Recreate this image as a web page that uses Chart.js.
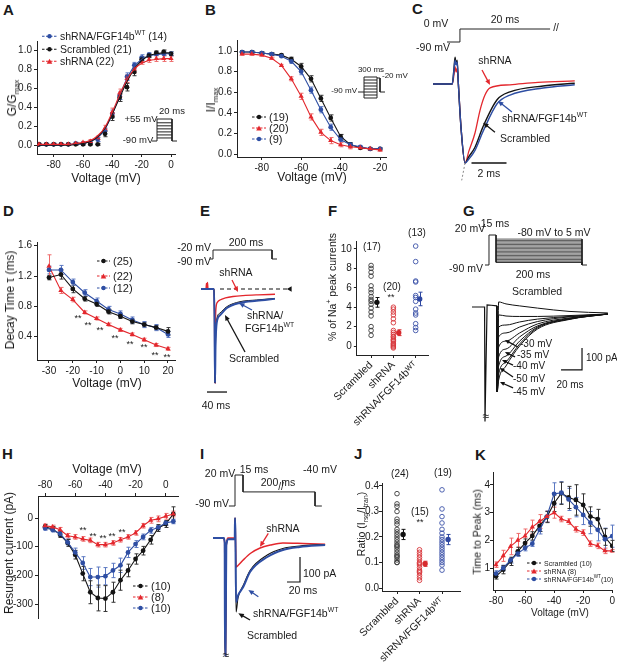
<!DOCTYPE html>
<html><head><meta charset="utf-8">
<script src="https://cdn.jsdelivr.net/npm/chart.js"></script>
<style>
html,body{margin:0;padding:0;background:#fff;}
#fig{position:relative;width:617px;height:662px;overflow:hidden;background:#fff;font-family:"Liberation Sans",Arial,Helvetica,sans-serif;color:#1a1a1a;}
#fig canvas{position:absolute;}
.t{position:absolute;white-space:nowrap;line-height:1;}
.t sub,.t sup{font-size:65%;line-height:0;}
</style></head><body><div id="fig"></div>
<script>
// ================= DATA =================
// Panel A : G/Gmax
const A_v=[-90,-85,-80,-75,-70,-65,-60,-55,-50,-45,-40,-35,-30,-25,-20,-15,-10,-5,0];
const A_fgf=[0.01,0.01,0.01,0.01,0.01,0.02,0.02,0.03,0.06,0.15,0.33,0.52,0.72,0.84,0.92,0.95,0.96,0.96,0.96];
const A_fgf_e=[0.01,0.01,0.01,0.01,0.01,0.01,0.01,0.01,0.02,0.03,0.04,0.04,0.04,0.03,0.03,0.02,0.02,0.02,0.02];
const A_fgf_fit=[0,0,0,0,0.01,0.01,0.02,0.04,0.08,0.17,0.33,0.52,0.70,0.83,0.90,0.94,0.95,0.96,0.96];
const A_scr=[0.01,0.01,0.01,0.01,0.01,0.01,0.01,0.01,0.01,0.12,0.30,0.50,0.61,0.77,0.90,0.94,0.97,0.98,0.96];
const A_scr_e=[0.01,0.01,0.01,0.01,0.01,0.01,0.01,0.01,0.01,0.03,0.04,0.04,0.04,0.04,0.03,0.02,0.02,0.02,0.02];
const A_scr_fit=[0,0,0,0,0,0.01,0.02,0.04,0.09,0.18,0.33,0.50,0.67,0.80,0.89,0.94,0.96,0.97,0.97];
const A_sh=[0.01,0.01,0.01,0.01,0.01,0.02,0.03,0.04,0.08,0.18,0.35,0.55,0.70,0.80,0.88,0.90,0.91,0.91,0.91];
const A_sh_e=[0.01,0.01,0.01,0.01,0.01,0.01,0.01,0.02,0.02,0.03,0.04,0.04,0.04,0.04,0.03,0.03,0.03,0.03,0.03];
const A_sh_fit=[0.01,0.01,0.01,0.01,0.01,0.02,0.03,0.05,0.10,0.19,0.35,0.53,0.69,0.80,0.86,0.89,0.90,0.91,0.91];
const A_xt=[-80,-60,-40,-20,0];
const A_yt=[0,0.2,0.4,0.6,0.8,1.0];
const A_ins_t=[0,4,4,16,16,20], A_ins_v=[-90,-90,55,55,-90,-90];
const A_ins_lv=[-70,-50,-30,-10,10,30];

// Panel B : I/Imax
const B_v=[-90,-85,-80,-75,-70,-65,-60,-55,-50,-45,-40,-35,-30,-25,-20];
const B_scr=[0.99,0.99,0.98,0.97,0.96,0.92,0.85,0.73,0.54,0.35,0.17,0.09,0.06,0.05,0.05];
const B_sh=[0.97,0.97,0.96,0.93,0.86,0.73,0.56,0.36,0.21,0.13,0.09,0.07,0.06,0.05,0.04];
const B_fgf=[0.99,0.99,0.98,0.97,0.95,0.90,0.80,0.62,0.43,0.26,0.14,0.09,0.07,0.05,0.05];
const B_e=[0.01,0.01,0.01,0.01,0.01,0.02,0.03,0.03,0.03,0.03,0.02,0.02,0.01,0.01,0.01];
const B_xt=[-80,-60,-40,-20];
const B_yt=[0,0.2,0.4,0.6,0.8,1.0];
const B_ins_lv=[-120,-105,-90,-75,-60,-45,-30,-15];

// Panel C : traces (ms, normalised current)
const C_tr=[0,1.1,1.2,1.26,1.32,1.38,1.45,1.6,1.83,2.05,2.4,2.69,2.97,3.26,4.4,6,8.1];
const C_red=[0,0,0.12,0.22,0.15,0.2,0,-0.55,-1.0,-0.85,-0.62,-0.33,-0.14,-0.05,-0.01,0.02,0.04];
const C_tk=[0,1.1,1.2,1.26,1.32,1.38,1.45,1.6,1.83,2.05,2.4,2.86,3.66,4.4,6.29,8.1];
const C_blk=[0,0,0.2,0.34,0.25,0.3,0,-0.55,-1.0,-0.92,-0.8,-0.54,-0.2,-0.1,-0.025,0.01];
const C_blu=[0,0,0.18,0.3,0.24,0.28,0,-0.55,-1.0,-0.95,-0.84,-0.6,-0.25,-0.14,-0.05,-0.01];
const C_pt=[0.8,1.54,1.54,6.69], C_pv=[-90,-90,0,0];

// Panel D : decay tau
const D_v=[-30,-25,-20,-15,-10,-5,0,5,10,15,20];
const D_scr=[1.18,1.22,1.03,0.90,0.83,0.73,0.67,0.60,0.56,0.52,0.47];
const D_scr_e=[0.03,0.06,0.05,0.03,0.03,0.03,0.03,0.03,0.03,0.03,0.05];
const D_sh=[1.33,1.01,0.89,0.72,0.64,0.56,0.49,0.43,0.36,0.29,0.24];
const D_sh_e=[0.15,0.04,0.03,0.02,0.02,0.02,0.02,0.02,0.02,0.02,0.02];
const D_fgf=[1.28,1.28,1.12,0.98,0.87,0.76,0.70,0.62,0.56,0.52,0.43];
const D_fgf_e=[0.05,0.06,0.04,0.04,0.04,0.04,0.04,0.04,0.04,0.04,0.04];
const D_xt=[-30,-20,-10,0,10,20];
const D_yt=[0.4,0.8,1.2,1.6];

// Panel E : traces
const E_tr=[-24,-14,-13,-12,-11,-10,-9,2,3,4,4.8,6,9,14,25,40,60,90,124];
const E_red=[0,0,0.06,0,0.07,0,0,0,-0.3,-1.0,-0.4,-0.2,-0.14,-0.117,-0.095,-0.08,-0.07,-0.062,-0.056];
const E_tk=[-24,2,3,4,5,7.4,14,27,54,87,124];
const E_blk=[0,0,-0.3,-1.0,-0.6,-0.33,-0.256,-0.19,-0.135,-0.117,-0.1];
const E_blu=[0,0,-0.3,-1.0,-0.62,-0.36,-0.28,-0.205,-0.148,-0.125,-0.105];
const E_pt=[-6,0,0,118,118,128], E_pv=[-90,-90,-20,-20,-90,-90];

// Panel F : % of Na+ peak
const F_cats=['Scrambled','shRNA','shRNA/FGF14b\u1D42\u1D40'];
const F_scr=[8.3,8.0,7.6,7.2,6.2,5.8,5.5,5.1,4.8,4.6,4.3,3.9,3.5,3.1,2.0,1.6,1.1];
const F_sh=[4.0,3.8,3.5,3.2,2.8,2.4,1.6,1.4,1.2,1.0,0.9,0.7,0.6,0.5,0.3,0.2,0.1,0.0,-0.1,-0.2];
const F_fgf=[10.3,8.7,6.7,6.6,5.2,5.0,4.6,3.8,3.4,3.2,2.3,1.9,1.6];
const F_mean=[4.5,1.37,4.85], F_sem=[0.5,0.3,0.7];
const F_yt=[0,2,4,6,8,10];

// Panel G : resurgent family (ms, pA)
const G_t0=[-12.4,-0.4,0,0.9,2,6,11.2], G_i0=[0,0,-520,-520,10,8,5];
const G_tt=[11.2,11.6,13,20,33,50,80,117];
const G_tr=[
 [5,-386,23,14,5,-5,-20,-27],
 [5,-386,-36,-41,-43,-43,-39,-32],
 [5,-386,-91,-82,-68,-55,-43,-32],
 [5,-386,-136,-118,-91,-66,-45,-32],
 [5,-386,-182,-155,-118,-77,-50,-32],
 [5,-386,-227,-191,-136,-86,-52,-32],
 [5,-386,-268,-223,-155,-91,-55,-32],
 [5,-386,-305,-250,-168,-95,-55,-32],
 [5,-386,-332,-268,-177,-100,-57,-32]];
const G_pt=[0,3.8,3.8,10.5,10.5,92.4,92.4,97.1], G_pv=[-90,-90,20,20,-80,-80,-90,-90];
const G_steps=[-80,-75,-70,-65,-60,-55,-50,-45,-40,-35,-30,-25,-20,-15,-10,-5,0,5];

// Panel H : resurgent current I-V
const H_v=[-80,-75,-70,-65,-60,-55,-50,-45,-40,-35,-30,-25,-20,-15,-10,-5,0,5];
const H_scr=[-31,-38,-58,-87,-128,-194,-259,-279,-281,-259,-217,-183,-143,-114,-76,-35,-21,14];
const H_scr_e=[8,8,10,12,15,25,40,45,45,35,35,22,18,15,15,12,12,25];
const H_sh=[-27,-31,-41,-62,-66,-73,-78,-93,-93,-87,-76,-66,-52,-27,-8,-3,6,14];
const H_sh_e=[6,6,8,8,8,8,8,8,8,8,8,8,8,8,10,10,10,10];
const H_fgf=[-35,-41,-55,-85,-120,-157,-206,-206,-203,-183,-165,-120,-91,-66,-43,-33,-17,-12];
const H_fgf_e=[8,8,10,12,15,22,30,35,30,25,25,18,12,10,10,8,8,8];
const H_xt=[-80,-60,-40,-20,0];
const H_yt=[0,-100,-200,-300];

// Panel I : traces (ms, pA)
const I_tr=[-18.5,-2,-0.5,0,0.8,2,5,15,15.4,16,17,20,28,40,54,70,89,120,154];
const I_red=[0,0,-20,-470,-470,-30,0,0,80,20,-116,-110,-88,-60,-40,-28,-20,-22,-25];
const I_tb=[-18.5,-2,-0.5,0,0.8,2,5,15,15.4,16,17,20,28,38.5,65,89,115,154];
const I_blu=[0,0,-20,-470,-470,-30,-5,-5,80,20,-256,-230,-196,-136,-76,-48,-36,-28];
const I_blk=[0,0,-20,-470,-470,-30,-5,-5,80,20,-296,-240,-190,-130,-68,-42,-32,-26];
const I_pt=[6,15.4,15.4,27.7,27.7,138.5,138.5,149], I_pv=[-90,-90,20,20,-40,-40,-90,-90];

// Panel J : ratio
const J_cats=F_cats;
const J_scr=[0.37,0.33,0.32,0.30,0.27,0.26,0.25,0.23,0.22,0.21,0.20,0.19,0.18,0.17,0.165,0.16,0.15,0.14,0.13,0.125,0.12,0.11,0.10,0.10];
const J_sh=[0.15,0.14,0.13,0.12,0.11,0.10,0.095,0.09,0.08,0.07,0.065,0.06,0.05,0.04,0.03];
const J_fgf=[0.385,0.31,0.28,0.255,0.23,0.215,0.2,0.19,0.18,0.17,0.16,0.15,0.14,0.13,0.12,0.11,0.1,0.09,0.07];
const J_mean=[0.21,0.095,0.19], J_sem=[0.02,0.01,0.02];
const J_yt=[0,0.1,0.2,0.3,0.4];

// Panel K : time to peak
const K_v=[-80,-75,-70,-65,-60,-55,-50,-45,-40,-35,-30,-25,-20,-15,-10,-5,0];
const K_scr=[0.70,0.94,1.24,1.60,1.90,2.16,2.52,2.84,3.34,3.70,3.55,3.46,3.28,2.86,2.77,2.12,1.80];
const K_scr_e=[0.1,0.15,0.15,0.15,0.15,0.15,0.2,0.2,0.3,0.4,0.4,0.55,0.4,0.35,0.35,0.3,0.2];
const K_sh=[1.12,1.44,1.78,2.00,2.16,2.48,2.68,2.86,3.00,2.77,2.68,2.40,2.28,1.88,1.80,1.62,1.62];
const K_sh_e=[0.1,0.2,0.3,0.25,0.25,0.25,0.25,0.2,0.2,0.1,0.1,0.1,0.1,0.1,0.1,0.1,0.05];
const K_fgf=[0.80,1.00,1.28,1.52,1.72,1.88,2.38,2.86,3.68,3.72,3.48,3.20,2.92,2.64,2.38,2.04,2.15];
const K_fgf_e=[0.1,0.1,0.1,0.1,0.1,0.1,0.15,0.2,0.4,0.4,0.4,0.35,0.35,0.4,0.4,0.4,0.4];
const K_xt=[-80,-60,-40,-20,0];
const K_yt=[1,2,3,4];

// ================= STYLE / HELPERS =================
const BLK='#141414', RED='#e3272d', BLU='#2e4ea3';
const BLKe='#333', REDe='#ee6a6a', BLUe='#5b78c2';
const FONT="'Liberation Sans', Arial, Helvetica, sans-serif";
Chart.defaults.font.family=FONT; Chart.defaults.font.size=10; Chart.defaults.color='#1a1a1a';
Chart.defaults.animation=false; Chart.defaults.responsive=false; Chart.defaults.events=[];
Chart.defaults.plugins.legend.display=false; Chart.defaults.plugins.tooltip.enabled=false;
const fig=document.getElementById('fig');

function P(xs,ys){return xs.map((x,i)=>({x:x,y:ys[i]}));}
function rangeFor(m,pa,pb){const k=(m[2]-m[0])/(m[3]-m[1]);return [m[0]+(pa-m[1])*k,m[0]+(pb-m[1])*k];}
function canvasAt(b){const c=document.createElement('canvas');c.width=b.w;c.height=b.h;Object.assign(c.style,{left:b.x+'px',top:b.y+'px',width:b.w+'px',height:b.h+'px'});fig.appendChild(c);return c;}
function T(html,x,y,o){o=o||{};const d=document.createElement('div');d.className='t';d.innerHTML=html;d.style.left=x+'px';d.style.top=y+'px';d.style.fontSize=(o.fs||10.5)+'px';if(o.c)d.style.color=o.c;if(o.b)d.style.fontWeight='bold';const ax=o.a==='l'?'0':o.a==='r'?'-100%':'-50%';d.style.transform='translate('+ax+',-50%)'+(o.rot?' rotate(-90deg)':'');fig.appendChild(d);return d;}
function LG(x,y,w,color,marker,html,fs){const d=document.createElement('div');d.className='t';d.style.left=x+'px';d.style.top=y+'px';d.style.fontSize=fs+'px';d.style.transform='translateY(-50%)';d.style.display='flex';d.style.alignItems='center';const cx=w/2;const m=marker==='triangle'?`<polygon points="${cx-2.8},6 ${cx+2.8},6 ${cx},1" fill="${color}"/>`:`<circle cx="${cx}" cy="3.5" r="2.2" fill="${color}"/>`;d.innerHTML=`<svg width="${w}" height="7" style="margin-right:3px;flex:none"><line x1="0" y1="3.5" x2="${w}" y2="3.5" stroke="${color}" stroke-width="1" stroke-dasharray="2.5 1.5"/>${m}</svg><span>${html}</span>`;fig.appendChild(d);}

const errPlugin={id:'errbars',beforeDatasetsDraw(ch){const ctx=ch.ctx;ch.data.datasets.forEach(ds=>{if(!ds.err)return;const xs=ch.scales.x,ys=ch.scales.y,c=ds.cap||2;ctx.save();ctx.strokeStyle=ds.errColor||ds.borderColor;ctx.lineWidth=1;ctx.beginPath();ds.data.forEach((p,j)=>{const e=ds.err[j];if(!e)return;const x=Math.round(xs.getPixelForValue(p.x))+0.5,y1=ys.getPixelForValue(p.y+e),y2=ys.getPixelForValue(p.y-e);ctx.moveTo(x,y1);ctx.lineTo(x,y2);ctx.moveTo(x-c,y1);ctx.lineTo(x+c,y1);ctx.moveTo(x-c,y2);ctx.lineTo(x+c,y2);});ctx.stroke();ctx.restore();});}};
const arrowPlugin={id:'arrows',afterDatasetsDraw(ch,a,opts){const ctx=ch.ctx;(opts.list||[]).forEach(r=>{const xs=ch.scales.x,ys=ch.scales.y;const x1=xs.getPixelForValue(r.a[0]),y1=ys.getPixelForValue(r.a[1]),x2=xs.getPixelForValue(r.b[0]),y2=ys.getPixelForValue(r.b[1]);const ang=Math.atan2(y2-y1,x2-x1),h=r.h||6;ctx.save();ctx.strokeStyle=r.c;ctx.fillStyle=r.c;ctx.lineWidth=1.3;ctx.beginPath();ctx.moveTo(x1,y1);ctx.lineTo(x2-Math.cos(ang)*h*0.7,y2-Math.sin(ang)*h*0.7);ctx.stroke();ctx.beginPath();ctx.moveTo(x2,y2);ctx.lineTo(x2-h*Math.cos(ang-0.42),y2-h*Math.sin(ang-0.42));ctx.lineTo(x2-h*Math.cos(ang+0.42),y2-h*Math.sin(ang+0.42));ctx.closePath();ctx.fill();ctx.restore();});}};

function series(xs,ys,err,color,errColor,marker,line){return {data:P(xs,ys),err:err,errColor:errColor,borderColor:color,backgroundColor:color,pointBackgroundColor:color,borderWidth:1.1,pointStyle:marker,pointRadius:marker==='triangle'?3:2.4,pointBorderWidth:0,showLine:line!==false,tension:0};}
function fitLine(xs,ys,color){return {data:P(xs,ys),borderColor:color,borderWidth:1.1,pointRadius:0,cubicInterpolationMode:'monotone'};}
function cat(vals,k,color){return {data:vals.map(v=>({x:k,y:v})),showLine:false,pointRadius:2.3,pointBorderWidth:0.9,pointBackgroundColor:'rgba(255,255,255,0)',pointBorderColor:color,borderColor:color,pointStyle:'circle'};}
function meanPt(k,m,s,color){return {data:[{x:k,y:m}],err:[s],errColor:color,cap:2,showLine:false,pointRadius:2.7,pointBorderWidth:0,pointBackgroundColor:color,borderColor:color};}
function tr(xs,ys,color,w,ax,o){o=o||{};return Object.assign({data:P(xs,ys),borderColor:color,borderWidth:w||1,pointRadius:0,yAxisID:ax||'y',tension:0,fill:false},o);}

function plotPanel(o){
  const c=canvasAt(o.box);
  const [xmin,xmax]=rangeFor(o.xm,o.area.l,o.area.r);
  const [ymin,ymax]=rangeFor(o.ym,o.area.b,o.area.t);
  const axisH=o.xTop?o.area.t-o.box.y:o.box.y+o.box.h-o.area.b;
  const axisW=o.area.l-o.box.x;
  const gr={display:true,drawOnChartArea:false,drawTicks:true,tickLength:3,color:'#222',lineWidth:1};
  const bd={display:true,color:'#222',width:1};
  return new Chart(c,{type:'line',data:{datasets:o.datasets},options:{
    layout:{autoPadding:false,padding:{left:0,right:o.box.x+o.box.w-o.area.r,top:o.xTop?0:o.area.t-o.box.y,bottom:o.xTop?o.box.y+o.box.h-o.area.b:0}},
    scales:{
      x:{type:'linear',position:o.xTop?'top':'bottom',min:xmin,max:xmax,grid:gr,border:bd,
        afterBuildTicks:s=>{s.ticks=o.xticks.map(v=>({value:v}));},
        afterFit:s=>{s.height=axisH;},
        ticks:{autoSkip:false,maxRotation:o.xRot||0,minRotation:o.xRot||0,padding:o.xRot?1:2,color:'#1a1a1a',font:{size:o.xfs||10},callback:o.xfmt||(v=>v)}},
      y:{type:'linear',min:ymin,max:ymax,grid:gr,border:bd,
        afterBuildTicks:s=>{s.ticks=o.yticks.map(v=>({value:v}));},
        afterFit:s=>{s.width=axisW;},
        ticks:{padding:(o.ypad!==undefined?o.ypad:2),color:'#1a1a1a',font:{size:10},callback:o.yfmt||(v=>v)}}
    }}, plugins:[errPlugin]});
}
function drawPanel(o){
  const c=canvasAt(o.box);
  const [xmin,xmax]=rangeFor(o.xm,o.box.x,o.box.x+o.box.w);
  const scales={x:{type:'linear',display:false,min:xmin,max:xmax}};
  Object.keys(o.ax).forEach(k=>{const [mn,mx]=rangeFor(o.ax[k],o.box.y+o.box.h,o.box.y);scales[k]={type:'linear',display:false,min:mn,max:mx};});
  return new Chart(c,{type:'line',data:{datasets:o.datasets},options:{layout:{autoPadding:false,padding:0},scales:scales,plugins:{arrows:{list:o.arrows||[]}}},plugins:[arrowPlugin]});
}
const f1=v=>Number(v).toFixed(1);

// ================= PANEL LETTERS =================
[['A',3,9],['B',205,9],['C',412,8],['D',3,210],['E',200,210],['F',328,210],['G',463,210],['H',2,453],['I',200,453],['J',354,453],['K',475,454]].forEach(l=>T(l[0],l[1],l[2],{a:'l',b:1,fs:15}));

// ================= A =================
plotPanel({box:{x:0,y:28,w:200,h:160},area:{l:37,t:41,r:175,b:154},xm:[-90,39,0,171],ym:[0,145.3,1,50],xticks:A_xt,yticks:A_yt,yfmt:f1,
 datasets:[fitLine(A_v,A_sh_fit,RED),fitLine(A_v,A_scr_fit,BLK),fitLine(A_v,A_fgf_fit,BLU),
  series(A_v,A_sh,A_sh_e,RED,REDe,'triangle',false),series(A_v,A_scr,A_scr_e,BLK,BLKe,'circle',false),series(A_v,A_fgf,A_fgf_e,BLU,BLUe,'circle',false)]});
T('G/G<sub>max</sub>',12,98,{rot:1,fs:12});
T('Voltage (mV)',106,178,{fs:12});
LG(42,36,15,BLU,'circle','shRNA/FGF14b<sup>WT</sup> (14)',10.5);
LG(42,49,15,BLK,'circle','Scrambled (21)',10.5);
LG(42,61,15,RED,'triangle','shRNA (22)',10.5);
(function(){const ds=[tr(A_ins_t,A_ins_v,'#222',1)];A_ins_lv.forEach(v=>ds.push(tr([4,16],[v,v],'#222',1)));
 drawPanel({box:{x:146,y:106,w:40,h:42},xm:[0,152,20,177],ax:{y:[-90,141,55,119]},datasets:ds});})();
T('+55 mV',141,119,{fs:9.5});T('20 ms',172,111,{fs:9.5});T('-90 mV',138,140,{fs:9.5});

// ================= B =================
plotPanel({box:{x:205,y:28,w:205,h:160},area:{l:237,t:40,r:386,b:157},xm:[-90,242,-20,380],ym:[0,154,1,51],xticks:B_xt,yticks:B_yt,yfmt:f1,
 datasets:[series(B_v,B_sh,B_e,RED,REDe,'triangle'),series(B_v,B_fgf,B_e,BLU,BLUe,'circle'),series(B_v,B_scr,B_e,BLK,BLKe,'circle')]});
T('I/I<sub>max</sub>',211,100,{rot:1,fs:12});
T('Voltage (mV)',312,177,{fs:12});
LG(252,117,14,BLK,'circle','(19)',11);
LG(252,128,14,RED,'triangle','(20)',11);
LG(252,139,14,BLU,'circle','(9)',11);
(function(){const ds=[tr([0,6],[-90,-90],'#222',1),tr([6,6],[-120,-15],'#222',1),tr([19,19],[-120,-15],'#222',1),tr([19,22,22,27],[-20,-20,-90,-90],'#222',1)];
 B_ins_lv.forEach(v=>ds.push(tr([6,19],[v,v],'#222',1)));
 drawPanel({box:{x:352,y:68,w:40,h:36},xm:[0,358,28,386],ax:{y:[-90,92,-15,77]},datasets:ds});})();
T('300 ms',371,70,{fs:8});T('-20 mV',382,76,{fs:8,a:'l'});T('-90 mV',357,91,{fs:8,a:'r'});

// ================= C =================
drawPanel({box:{x:410,y:10,w:192,h:180},xm:[0,433,1,450.5],ax:{y:[0,84,-1,163],yp:[-90,42,0,29]},
 datasets:[tr(C_pt,C_pv,'#222',1,'yp'),
  tr([1.83,1.64],[-1.0,-1.22],'#888',1,'y',{borderDash:[2,2]}),
  tr(C_tk,C_blu,BLU,1.4,'y',{cubicInterpolationMode:'monotone'}),
  tr(C_tk,C_blk,BLK,1.4,'y',{cubicInterpolationMode:'monotone'}),
  tr(C_tr,C_red,RED,1.3,'y',{cubicInterpolationMode:'monotone'}),
  tr([2.2,4.2],[-1,-1],'#111',1.3)],
 arrows:[{a:[2.8,0.177],b:[3.26,-0.013],c:RED},{a:[4.51,-0.354],b:[3.71,-0.215],c:BLU},{a:[3.54,-0.61],b:[2.86,-0.49],c:BLK}]});
T('0 mV',436,23);T('20 ms',505,19);T('-90 mV',433,47);T('//',556,28,{fs:10});
T('shRNA',495,60);T('shRNA/FGF14b<sup>WT</sup>',502,118,{a:'l'});T('Scrambled',500,138,{a:'l'});T('2 ms',489,173);

// ================= D =================
plotPanel({box:{x:0,y:228,w:200,h:170},area:{l:37,t:242,r:175,b:360},xm:[-30,49,20,168],ym:[0.4,336.7,1.6,245.7],xticks:D_xt,yticks:D_yt,yfmt:f1,
 datasets:[series(D_v,D_scr,D_scr_e,BLK,BLKe,'circle'),series(D_v,D_fgf,D_fgf_e,BLU,BLUe,'circle'),series(D_v,D_sh,D_sh_e,RED,REDe,'triangle')]});
T('Decay Time \u03C4 (ms)',10,300,{rot:1,fs:12});
T('Voltage (mV)',107,383,{fs:12});
LG(97,261,13,BLK,'circle','(25)',11);
LG(97,276,13,RED,'triangle','(22)',11);
LG(97,288,13,BLU,'circle','(12)',11);
[[78,318],[88,325],[100,330],[115,338],[130,344],[144,347],[155,355],[167,357]].forEach(p=>T('**',p[0],p[1],{fs:9}));

// ================= E =================
drawPanel({box:{x:198,y:238,w:105,h:165},xm:[0,213,40,233],ax:{y:[0,289,-1,383],yp:[-90,259,-20,250]},
 datasets:[tr(E_pt,E_pv,'#222',1,'yp'),
  tr([14,154],[0,0],'#111',1.2,'y',{borderDash:[4,3],pointRadius:[0,3.2],pointStyle:'triangle',pointRotation:-90,pointBackgroundColor:'#111',pointBorderWidth:0}),
  tr(E_tk,E_blu,BLU,2,'y',{cubicInterpolationMode:'monotone'}),
  tr(E_tk,E_blk,BLK,1,'y',{cubicInterpolationMode:'monotone'}),
  tr(E_tr,E_red,RED,1.4,'y',{cubicInterpolationMode:'monotone'}),
  tr([-12,28],[-1.096,-1.096],'#111',1.3)],
 arrows:[{a:[38,0.096],b:[50,-0.032],c:RED},{a:[78,-0.223],b:[52,-0.149],c:BLU},{a:[64,-0.67],b:[24,-0.277],c:BLK}]});
T('-20 mV',211,247,{a:'r'});T('-90 mV',211,261,{a:'r'});T('200 ms',246,242);
T('shRNA',236,272);T('shRNA/',247,315,{a:'l'});T('FGF14b<sup>WT</sup>',245,328,{a:'l'});T('Scrambled',254,358);T('40 ms',216,405);

// ================= F =================
plotPanel({box:{x:330,y:228,w:112,h:200},area:{l:353,t:241,r:428,b:355},xm:[1,368,3,415],ym:[0,346,10,249],xticks:[1,2,3],yticks:F_yt,xRot:45,xfs:10.5,xfmt:v=>F_cats[v-1],
 datasets:[cat(F_scr,1,'#3a3a3a'),cat(F_sh,2,'#d8383c'),cat(F_fgf,3,'#3c52a8'),
  meanPt(1.26,F_mean[0],F_sem[0],'#111'),meanPt(2.24,F_mean[1],F_sem[1],'#d62a2e'),meanPt(3.18,F_mean[2],F_sem[2],'#2d46a0')]});
T('% of Na<sup>+</sup> peak currents',332,287,{rot:1,fs:10.5});
T('(17)',372,247,{fs:10});T('(20)',392,287,{fs:10});T('**',391,297,{fs:9});T('(13)',417,233,{fs:10});

// ================= G =================
(function(){const ds=[tr(G_pt,G_pv,'#222',1,'yp'),tr([92.4,92.4],[5,-90],'#222',1,'yp')];
 G_steps.forEach(v=>ds.push(tr([10.5,92.4],[v,v],'#333',0.8,'yp')));
 ds.push(tr(G_t0,G_i0,'#111',1.2));
 G_tr.forEach(r=>ds.push(tr(G_tt,r,'#111',1,'y',{cubicInterpolationMode:'monotone'})));
 ds.push(tr([72.4,92.4,92.4],[-286,-286,-186],'#111',1.2));
 drawPanel({box:{x:440,y:215,w:177,h:212},xm:[0,485,20,506],ax:{y:[0,307,-100,329],yp:[-90,265,20,235]},datasets:ds,
  arrows:[{a:[31.4,-182],b:[19,-150],c:'#111',h:5},{a:[28.6,-227],b:[19,-205],c:'#111',h:5},{a:[26.7,-264],b:[16.2,-241],c:'#111',h:5},{a:[26.7,-318],b:[14.3,-277],c:'#111',h:5},{a:[26.7,-368],b:[14.3,-341],c:'#111',h:5}]});})();
T('15 ms',495,223);T('20 mV',470,228);T('-80 mV to 5 mV',554,232);T('-90 mV',466,268);T('200 ms',533,274);T('Scrambled',537,291);
T('-30 mV',520,344,{a:'l',fs:10});T('-35 mV',517,355,{a:'l',fs:10});T('-40 mV',513,366,{a:'l',fs:10});T('-50 mV',513,379,{a:'l',fs:10});T('-45 mV',513,392,{a:'l',fs:10});
T('100 pA',586,358,{a:'l',fs:10});T('20 ms',570,385,{fs:10});T('\u2248',486,416,{fs:12});

// ================= H =================
plotPanel({box:{x:0,y:465,w:200,h:165},area:{l:38,t:496,r:178,b:618},xm:[-80,45,5,173.3],ym:[0,518,-300,604],xticks:H_xt,yticks:H_yt,xTop:true,
 datasets:[series(H_v,H_sh,H_sh_e,RED,REDe,'triangle'),series(H_v,H_fgf,H_fgf_e,BLU,BLUe,'circle'),series(H_v,H_scr,H_scr_e,BLK,BLKe,'circle')]});
T('Resurgent current (pA)',9,553,{rot:1,fs:12});
T('Voltage (mV)',107,469,{fs:12});
LG(133,586,15,BLK,'circle','(10)',11);
LG(133,597,15,RED,'triangle','(8)',11);
LG(133,608,15,BLU,'circle','(10)',11);
[[83,530],[93,536],[103,538],[112,536],[122,532]].forEach(p=>T('**',p[0],p[1],{fs:9}));

// ================= I =================
drawPanel({box:{x:196,y:460,w:152,h:202},xm:[0,225,20,238],ax:{y:[0,538,-100,563],yp:[-90,506,20,475]},
 datasets:[tr(I_pt,I_pv,'#222',1,'yp'),
  tr(I_tb,I_blu,BLU,2,'y',{cubicInterpolationMode:'monotone'}),
  tr(I_tb,I_blk,BLK,1.1,'y',{cubicInterpolationMode:'monotone'}),
  tr(I_tr,I_red,RED,1.5,'y',{cubicInterpolationMode:'monotone'}),
  tr([95.4,115.4,115.4],[-176,-176,-76],'#111',1.2)],
 arrows:[{a:[66.6,18.7],b:[53.8,-35],c:RED},{a:[51.3,-234.7],b:[35.9,-208],c:BLU},{a:[38.5,-328],b:[20.5,-301.3],c:BLK}]});
T('20 mV',220,473);T('15 ms',254,469);T('200 ms',278,482);T('-40 mV',320,469);T('-90 mV',229,503,{a:'r'});T('//',281,487,{fs:10});
T('shRNA',283,528);T('shRNA/FGF14b<sup>WT</sup>',253,613,{a:'l'});T('Scrambled',247,635,{a:'l'});T('100 pA',303,573,{a:'l'});T('20 ms',303,590);T('\u2248',226,655,{fs:12});

// ================= J =================
plotPanel({box:{x:355,y:470,w:112,h:192},area:{l:382,t:483,r:460,b:591},xm:[1,397,3,442],ym:[0,588,0.4,486],xticks:[1,2,3],yticks:J_yt,yfmt:f1,ypad:0,xRot:45,xfs:10.5,xfmt:v=>J_cats[v-1],
 datasets:[cat(J_scr,1,'#3a3a3a'),cat(J_sh,2,'#d8383c'),cat(J_fgf,3,'#3c52a8'),
  meanPt(1.27,J_mean[0],J_sem[0],'#111'),meanPt(2.25,J_mean[1],J_sem[1],'#d62a2e'),meanPt(3.27,J_mean[2],J_sem[2],'#2d46a0')]});
T('Ratio (I<sub>rsg</sub>/I<sub>tran</sub>)',361,524,{rot:1,fs:10.5});
T('(24)',400,474,{fs:10});T('(15)',420,512,{fs:10});T('**',420,522,{fs:9});T('(19)',443,473,{fs:10});

// ================= K =================
plotPanel({box:{x:470,y:460,w:147,h:165},area:{l:493,t:472,r:613,b:590},xm:[-80,496,0,613],ym:[1,568,4,485],xticks:K_xt,yticks:K_yt,ypad:0,
 datasets:[series(K_v,K_sh,K_sh_e,RED,REDe,'triangle'),series(K_v,K_fgf,K_fgf_e,BLU,BLUe,'circle'),series(K_v,K_scr,K_scr_e,BLK,BLKe,'circle')]});
T('Time to Peak (ms)',477,532,{rot:1,fs:10.5});
T('Voltage (mV)',560,613,{fs:10});
LG(527,563,14,BLK,'circle','Scrambled (10)',7);
LG(527,571,14,RED,'triangle','shRNA (8)',7);
LG(527,579,14,BLU,'circle','shRNA/FGF14b<sup>WT</sup>(10)',7);
</script></body></html>
